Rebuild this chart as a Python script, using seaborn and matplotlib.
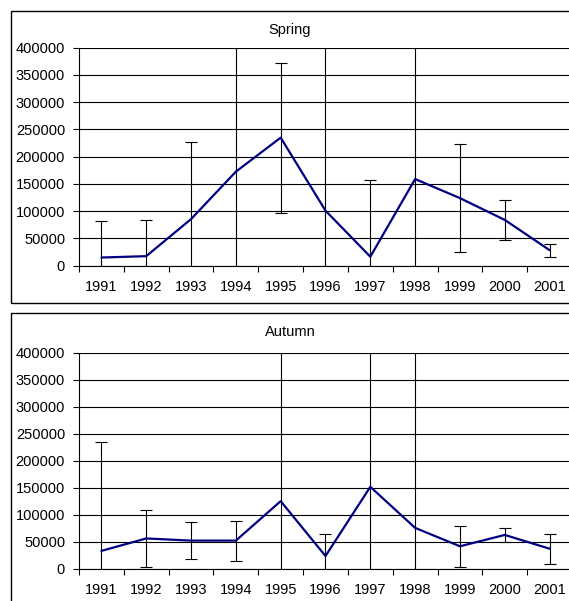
import matplotlib
matplotlib.use("Agg")
import matplotlib.pyplot as plt
from matplotlib.patches import Rectangle
import seaborn as sns
import numpy as np
import pandas as pd

years = ["1991", "1992", "1993", "1994", "1995", "1996", "1997", "1998", "1999", "2000", "2001"]
spring_values = [15000, 17500, 85500, 172500, 235000, 101000, 16500, 159000, 124000, 84000, 28500]
spring_errors = [67500, 66500, 141000, 300000, 137500, 350000, 140000, 300000, 99000, 37000, 12000]
autumn_values = [33500, 56500, 52500, 52500, 125500, 24000, 152000, 76000, 42000, 63000, 37500]
autumn_errors = [202000, 52800, 34000, 37000, 330000, 41300, 300000, 340000, 38000, 12700, 27500]
y_ticks = [0, 50000, 100000, 150000, 200000, 250000, 300000, 350000, 400000]

sns.set_theme(style="white")
plt.rcParams["font.family"] = ["Liberation Sans", "DejaVu Sans"]
plt.rcParams["text.color"] = "black"
plt.rcParams["xtick.labelcolor"] = "black"
plt.rcParams["ytick.labelcolor"] = "black"

FS = 10.5
W, H = 569, 601
fig = plt.figure(figsize=(W / 100, H / 100), dpi=100)

# frames around each chart
fig.patches.append(Rectangle((10.5 / W, 1 - 302.5 / H), 600 / W, 292 / H,
                             transform=fig.transFigure, fill=False, ec="black", lw=1.0))
fig.patches.append(Rectangle((10.5 / W, 1 - 640 / H), 600 / W, (640 - 313) / H,
                             transform=fig.transFigure, fill=False, ec="black", lw=1.0))


def panel(top_px, bottom_px, values, errors, title, title_y):
    left, right = 79, 572
    ax = fig.add_axes([left / W, 1 - bottom_px / H, (right - left) / W, (bottom_px - top_px) / H])
    df = pd.DataFrame({"x": np.arange(len(years)), "y": values})
    ax.errorbar(df["x"], df["y"], yerr=errors, fmt="none", ecolor="black",
                elinewidth=0.8, capsize=4, capthick=0.8, zorder=2)
    sns.lineplot(data=df, x="x", y="y", ax=ax, color="#000080", lw=1.6, zorder=3)
    ax.set_xlim(-0.5, len(years) - 0.5)
    ax.set_ylim(0, 400000)
    ax.set_yticks(y_ticks)
    ax.set_yticklabels([str(v) for v in y_ticks], fontsize=FS)
    ax.set_xticks(np.arange(-0.5, len(years), 1.0))
    ax.set_xticklabels([])
    ax.set_xticks(np.arange(len(years)), minor=True)
    ax.set_xticklabels(years, minor=True, fontsize=FS)
    ax.tick_params(axis="x", which="major", direction="out", length=4, width=0.8,
                   color="black", bottom=True)
    ax.tick_params(axis="x", which="minor", length=0, pad=10)
    ax.tick_params(axis="y", direction="out", length=4, width=0.8, color="black",
                   left=True, pad=6)
    ax.grid(axis="y", color="black", lw=0.8)
    ax.grid(axis="x", visible=False)
    for s in ["top", "right"]:
        ax.spines[s].set_visible(False)
    for s in ["left", "bottom"]:
        ax.spines[s].set_color("black")
        ax.spines[s].set_linewidth(0.8)
    ax.set_xlabel("")
    ax.set_ylabel("")
    ax.set_facecolor("white")
    ax.set_axisbelow(True)
    fig.text(290 / W, 1 - title_y / H, title, ha="center", va="center", fontsize=FS,
             color="black")
    return ax


panel(47.7, 265.7, spring_values, spring_errors, "Spring", 30)
panel(352.7, 569, autumn_values, autumn_errors, "Autumn", 332)

fig.savefig("out.png", dpi=100)
